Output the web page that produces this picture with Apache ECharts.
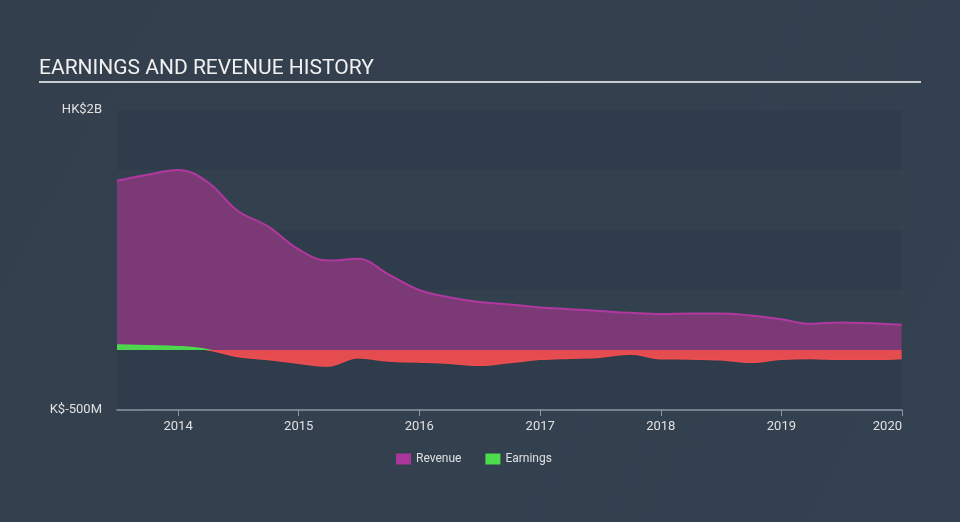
<!DOCTYPE html>
<html>
<head>
<meta charset="utf-8">
<script src="https://cdn.jsdelivr.net/npm/echarts@6/dist/echarts.min.js"></script>
<style>
html,body{margin:0;padding:0;width:960px;height:522px;background:#333f4e;}
#c{width:960px;height:522px;}
</style>
</head>
<body>
<div id="c"></div>
<script>
const dates = ['2013-06-30','2013-09-30','2013-12-31','2014-03-31','2014-06-30','2014-09-30','2014-12-31','2015-03-31','2015-06-30','2015-09-30','2015-12-31','2016-03-31','2016-06-30','2016-09-30','2016-12-31','2017-03-31','2017-06-30','2017-09-30','2017-12-31','2018-03-31','2018-06-30','2018-09-30','2018-12-31','2019-03-31','2019-06-30','2019-09-30','2019-12-31'];
const revenue = [1410,1460,1500,1400,1160,1030,840,745,760,630,500,440,400,380,355,340,325,310,300,305,305,288,256,218,230,222,210];
const earnings = [42,36,28,3,-55,-80,-110,-133,-65,-92,-100,-110,-128,-105,-78,-68,-61,-33,-72,-75,-82,-103,-78,-70,-78,-78,-70];
const yTickLabels = {'2000':'HK$2B','-500':'K$-500M'};

const chart = echarts.init(document.getElementById('c'));
chart.setOption({
  backgroundColor: {type:'linear',x:0,y:0,x2:1,y2:1,colorStops:[{offset:0,color:'#343f4d'},{offset:1,color:'#334150'}]},
  animation:false,
  title:{text:'EARNINGS AND REVENUE HISTORY',left:39,top:58,padding:0,textStyle:{color:'#f0f0f0',fontSize:21,fontWeight:'normal',fontFamily:'Roboto'}},
  graphic:[{type:'line',shape:{x1:39,y1:82,x2:921,y2:82},style:{stroke:'#c8ccd0',lineWidth:2}}],
  legend:{bottom:52,left:391,itemWidth:15,itemHeight:11,itemGap:24,icon:'rect',
    textStyle:{color:'#e0e0e0',fontSize:12,fontFamily:'Roboto'},
    data:[{name:'Revenue',itemStyle:{color:'#a8369b'}},{name:'Earnings',itemStyle:{color:'#4cdc4c'}}]},
  grid:{left:117,right:58,top:110,bottom:112},
  xAxis:{type:'time',min:'2013-06-30',max:'2020-01-01',
    axisLine:{onZero:false,lineStyle:{color:'#8a97a5',width:1.5}},
    axisTick:{show:true,length:6,lineStyle:{color:'#8a97a5'}},
    axisLabel:{color:'#e0e0e0',fontSize:13,fontFamily:'Roboto',formatter:'{yyyy}',margin:10,showMaxLabel:true,alignMaxLabel:'right'},
    splitLine:{show:false}},
  yAxis:{type:'value',min:-500,max:2000,interval:500,
    axisLine:{show:false},axisTick:{show:false},
    axisLabel:{color:'#e0e0e0',fontSize:13,fontFamily:'Roboto',margin:15,
      formatter:function(v){return yTickLabels[String(v)]||'';}},
    splitLine:{show:false},
    splitArea:{show:true,areaStyle:{color:['#2f3c4b','#33414f']}}},
  visualMap:{show:false,type:'piecewise',seriesIndex:1,dimension:1,
    pieces:[{min:0.0001,max:5000,color:'#4cdc4c'},{min:-5000,max:0,color:'#ee4d50'}]},
  series:[
    {name:'Revenue',type:'line',smooth:0.4,symbol:'none',
      data:dates.map((d,i)=>[d,revenue[i]]),
      lineStyle:{color:'#b0389f',width:2},
      itemStyle:{color:'#a8369b'},
      areaStyle:{color:'#7b3a76',opacity:1}},
    {name:'Earnings',type:'line',smooth:0.4,symbol:'none',
      data:dates.map((d,i)=>[d,earnings[i]]),
      lineStyle:{width:1.5},
      itemStyle:{color:'#4cdc4c'},
      areaStyle:{opacity:0.95}}
  ]
});
</script>
</body>
</html>
